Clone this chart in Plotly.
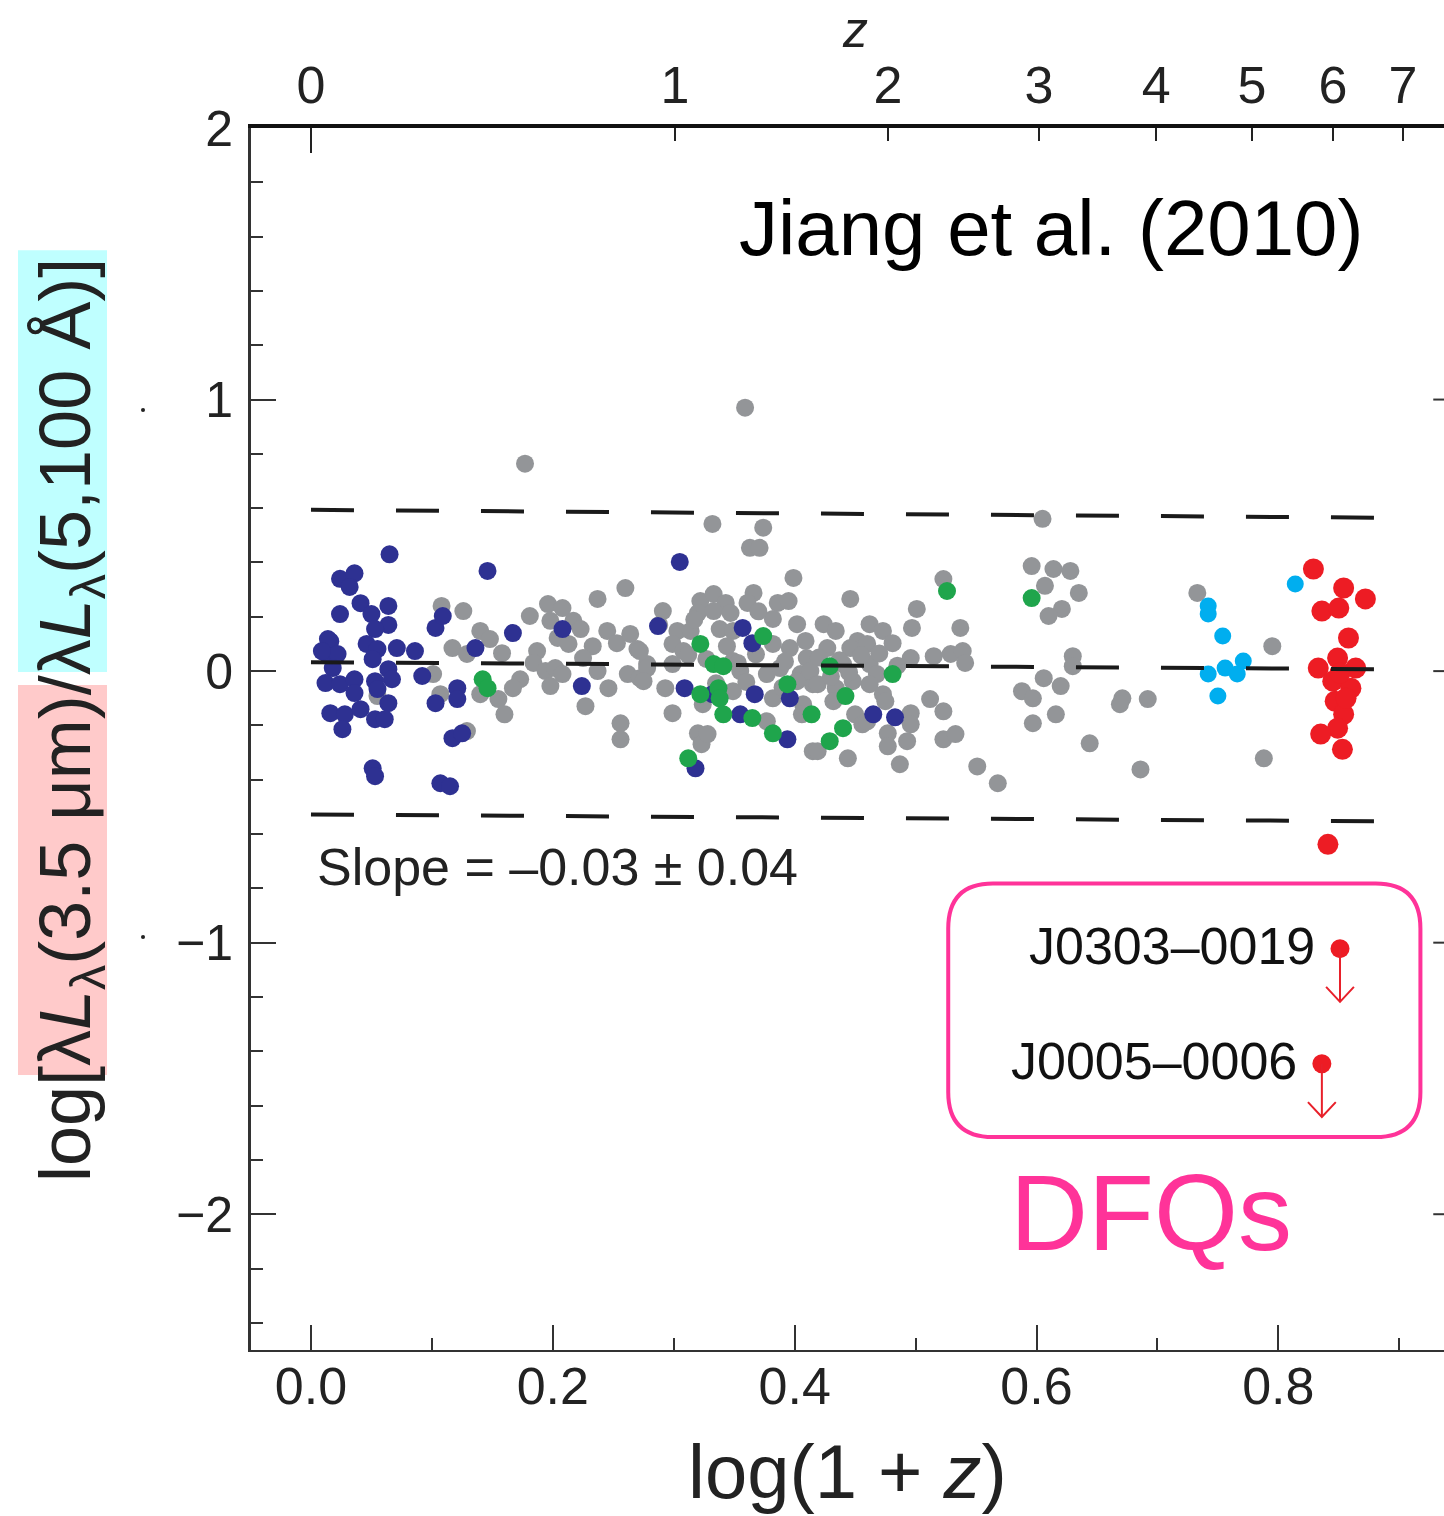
import numpy as np
import plotly.graph_objects as go

# ---------------- data ----------------
gray_x = [0.055,0.101,0.108,0.126,0.117,0.129,0.107,0.129,0.140,0.148,0.158,0.177,0.181,0.196,0.208,0.198,0.217,0.223,
          0.204,0.213,0.233,0.237,0.260,0.245,0.253,0.264,0.270,0.187,0.184,0.194,0.202,0.208,0.198,0.173,0.167,0.155,
          0.160,0.140,0.225,0.237,0.246,0.262,0.272,0.278,0.227,0.256,0.256,
          0.291,0.322,0.333,0.343,0.320,0.333,0.347,0.303,0.314,0.338,0.349,0.299,0.308,0.344,0.272,0.278,0.299,0.275,
          0.293,0.349,0.355,0.377,0.388,0.349,0.382,0.299,0.324,0.320,0.323,0.328,0.332,0.359,0.374,0.363,0.371,0.399,
          0.366,0.361,0.386,0.395,0.382,0.382,0.402,0.409,0.410,0.405,0.415,0.407,0.377,0.415,0.396,0.402,
          0.523,0.446,0.501,0.497,0.537,0.424,0.434,0.462,0.473,0.481,0.452,0.460,0.446,0.496,0.515,0.529,0.539,0.541,
          0.413,0.440,0.462,0.468,0.462,0.473,0.448,0.434,0.419,0.512,0.523,0.496,0.450,0.456,0.496,0.477,0.477,0.493,
          0.523,0.533,0.419,0.444,0.487,0.551,0.568,0.432,0.460,0.475,0.427,0.406,
          0.605,0.596,0.614,0.628,0.607,0.635,0.621,0.610,0.630,0.630,0.606,0.588,0.597,0.620,0.671,0.669,0.692,0.597,
          0.616,0.644,0.686,0.733,0.795,0.788,
          0.312,0.327,0.353,0.368,0.392,0.420,0.437,0.455,0.470,0.485,0.430,0.445,0.390,0.360,0.335,0.288,0.317,0.370]
gray_y = [-0.092,-0.011,0.240,0.221,0.085,0.063,-0.085,-0.221,0.148,0.118,0.066,0.764,0.203,0.247,0.232,0.185,0.185,0.155,
          0.122,0.100,0.092,0.266,0.306,0.148,0.103,0.137,0.081,0.074,0.030,0.000,0.011,-0.011,-0.055,-0.030,-0.063,-0.103,
          -0.159,-0.085,0.048,0.000,-0.063,-0.011,-0.026,0.026,-0.129,-0.192,-0.251,
          0.221,0.258,0.284,0.251,0.214,0.221,0.214,0.148,0.148,0.155,0.148,0.100,0.074,0.092,0.074,0.011,0.026,-0.037,
          -0.063,0.037,0.000,-0.011,0.011,-0.074,-0.100,-0.155,-0.122,-0.229,-0.269,-0.232,0.542,0.970,0.528,0.454,0.454,0.343,
          0.288,0.251,0.251,0.258,0.192,0.100,0.173,0.111,0.048,-0.011,-0.048,-0.122,-0.185,-0.295,0.085,-0.037,
          0.339,0.266,0.229,0.159,0.159,0.173,0.148,0.173,0.148,0.103,0.111,0.100,0.085,0.048,0.055,0.063,0.074,0.030,
          0.000,0.026,0.026,-0.011,-0.048,-0.085,-0.037,-0.063,-0.048,-0.103,-0.148,-0.155,-0.159,-0.196,-0.196,-0.229,-0.277,-0.258,
          -0.251,-0.232,-0.295,-0.321,-0.343,-0.351,-0.413,-0.111,-0.185,-0.111,0.085,-0.159,
          0.561,0.387,0.376,0.369,0.314,0.288,0.229,0.203,0.055,0.018,-0.026,-0.074,-0.100,-0.055,-0.100,-0.122,-0.103,-0.192,
          -0.159,-0.266,-0.362,0.288,0.092,-0.321,
          0.060,0.045,0.030,0.062,0.035,0.050,0.040,0.058,0.065,0.020,-0.020,-0.005,-0.060,-0.040,-0.045,0.170,0.190,0.220]

navy_x = [0.065,0.024,0.036,0.032,0.024,0.041,0.050,0.064,0.064,0.053,0.016,0.012,0.022,0.018,0.046,0.055,0.051,0.071,
          0.086,0.064,0.067,0.012,0.024,0.036,0.036,0.053,0.055,0.064,0.016,0.028,0.041,0.026,0.053,0.061,0.051,0.053,
          0.107,0.115,0.092,0.103,0.109,0.103,0.121,0.121,0.117,0.125,0.136,0.146,0.167,0.208,0.224,0.287,0.305,0.309,
          0.318,0.332,0.357,0.365,0.367,0.396,0.355,0.394,0.465,0.483,0.014,0.009]
navy_y = [0.43,0.34,0.36,0.31,0.21,0.25,0.21,0.24,0.17,0.155,0.11,0.066,0.063,0.011,0.10,0.081,0.044,0.085,
          0.074,0.007,-0.03,-0.044,-0.048,-0.03,-0.081,-0.037,-0.066,-0.118,-0.155,-0.159,-0.14,-0.214,-0.177,-0.177,-0.358,-0.387,
          -0.413,-0.424,-0.018,0.159,0.203,-0.118,-0.063,-0.103,-0.247,-0.229,0.085,0.369,0.14,0.155,-0.055,0.166,0.402,-0.063,
          -0.358,-0.085,0.159,0.103,-0.085,-0.10,-0.159,-0.251,-0.159,-0.17,0.118,0.074]

green_x = [0.142,0.146,0.322,0.333,0.341,0.337,0.322,0.338,0.341,0.365,0.382,0.374,0.394,0.414,0.312,0.429,0.442,
           0.440,0.429,0.481,0.526,0.596]
green_y = [-0.03,-0.063,0.10,0.026,0.018,-0.063,-0.085,-0.10,-0.159,-0.173,-0.229,0.129,-0.048,-0.159,-0.321,0.018,-0.092,
           -0.21,-0.258,-0.011,0.295,0.269]

cyan_x = [0.814,0.742,0.742,0.754,0.742,0.756,0.766,0.771,0.750]
cyan_y = [0.321,0.24,0.21,0.129,-0.011,0.011,-0.011,0.037,-0.092]

red_x = [0.829,0.854,0.872,0.836,0.850,0.858,0.833,0.849,0.864,0.845,0.860,0.847,0.854,0.849,0.835,0.853,0.841,0.851,0.856]
red_y = [0.376,0.306,0.266,0.221,0.232,0.122,0.011,0.048,0.011,-0.037,-0.063,-0.111,-0.159,-0.21,-0.232,-0.288,-0.638,-0.007,-0.10]

# dust-free quasars (upper limits)
dfq_names = ["J0303–0019", "J0005–0006"]
dfq_x = [0.851, 0.836]
dfq_y = [-1.022, -1.446]
dfq_limit_y = [-1.218, -1.642]

# fit line and scatter envelope
fit_x = [0.0, 0.883]
fit_mid = [0.033, 0.007]
fit_hi = [0.594, 0.565]
fit_lo = [-0.528, -0.553]

z_ticks = [0, 1, 2, 3, 4, 5, 6, 7]
x_range = [-0.0496, 0.937]
y_range = [-2.5, 2.0]

FONT = "Liberation Sans, Arial, Helvetica, sans-serif"
PINK = "#FF3399"
LIMIT_RED = "#E8202A"

fig = go.Figure()

def pts(x, y, color, size):
    return go.Scatter(x=x, y=y, mode="markers", showlegend=False, hoverinfo="skip",
                      marker=dict(color=color, size=size, line=dict(width=0)))

fig.add_trace(pts(gray_x, gray_y, "#939598", 18))
fig.add_trace(pts(navy_x, navy_y, "#2E3192", 18))
fig.add_trace(pts(green_x, green_y, "#1FA54C", 18))
fig.add_trace(pts(cyan_x, cyan_y, "#00AEEF", 17))
fig.add_trace(pts(red_x, red_y, "#ED1C24", 21))
fig.add_trace(pts(dfq_x, dfq_y, "#ED1C24", 19))

for yy in (fit_hi, fit_mid, fit_lo):
    fig.add_trace(go.Scatter(x=fit_x, y=yy, mode="lines", showlegend=False, hoverinfo="skip",
                             line=dict(color="#1a1a1a", width=4, dash="43px,42px")))

# invisible traces so that the top axes are drawn
fig.add_trace(go.Scatter(x=dfq_x, y=dfq_y, xaxis="x2", mode="markers", marker=dict(opacity=0),
                         showlegend=False, hoverinfo="skip"))
fig.add_trace(go.Scatter(x=dfq_x, y=dfq_y, xaxis="x3", mode="markers", marker=dict(opacity=0),
                         showlegend=False, hoverinfo="skip"))

annotations = []
# DFQ labels
for name, x0, y0 in zip(dfq_names, dfq_x, dfq_y):
    annotations.append(dict(x=x0 - 0.019, y=y0 + 0.01, xref="x", yref="y", text=name, showarrow=False,
                            xanchor="right", yanchor="middle", font=dict(family=FONT, size=52, color="#111")))

annotations += [
    dict(x=0.612, y=1.631, xref="x", yref="y", text="Jiang et al. (2010)", showarrow=False,
         xanchor="center", yanchor="middle", font=dict(family=FONT, size=78, color="#000")),
    dict(x=0.003, y=-0.72, xref="x", yref="y", text="Slope = –0.03 ± 0.04", showarrow=False,
         xanchor="left", yanchor="middle", font=dict(family=FONT, size=52, color="#222")),
    dict(x=0.695, y=-1.993, xref="x", yref="y", text="DFQs", showarrow=False,
         xanchor="center", yanchor="middle", font=dict(family=FONT, size=108, color=PINK)),
    dict(x=0.5004, y=-0.0998, xref="paper", yref="paper", text="log(1 + <i>z</i>)", showarrow=False,
         xanchor="center", yanchor="middle", font=dict(family=FONT, size=76, color="#222")),
    dict(x=0.5063, y=1.080, xref="paper", yref="paper", text="<i>z</i>", showarrow=False,
         xanchor="center", yanchor="middle", font=dict(family=FONT, size=50, color="#222")),
    dict(x=-0.1517, y=0.5155, xref="paper", yref="paper", textangle=-90,
         text="log[λ<i>L</i><sub>λ</sub>(3.5 μm)/λ<i>L</i><sub>λ</sub>(5,100 Å)]", showarrow=False,
         xanchor="center", yanchor="middle", font=dict(family=FONT, size=72, color="#222")),
]

# shapes: highlight boxes behind y title, rounded DFQ box, right-side ticks, upper-limit arrows
shapes = [
    dict(type="rect", xref="paper", yref="paper", x0=-0.1953, x1=-0.1207, y0=0.5548, y1=0.900,
         fillcolor="#BFFFFF", line=dict(width=0), layer="below"),
    dict(type="rect", xref="paper", yref="paper", x0=-0.1953, x1=-0.1207, y0=0.2250, y1=0.5442,
         fillcolor="#FFCACA", line=dict(width=0), layer="below"),
]
bx0, bx1, by0, by1, rx, ry = 0.527, 0.9175, -0.782, -1.716, 0.037, 0.166
path = (f"M {bx0+rx},{by0} L {bx1-rx},{by0} Q {bx1},{by0} {bx1},{by0-ry} "
        f"L {bx1},{by1+ry} Q {bx1},{by1} {bx1-rx},{by1} L {bx0+rx},{by1} "
        f"Q {bx0},{by1} {bx0},{by1+ry} L {bx0},{by0-ry} Q {bx0},{by0} {bx0+rx},{by0} Z")
shapes.append(dict(type="path", xref="x", yref="y", path=path, line=dict(color=PINK, width=4)))
for x0, y0, y1 in zip(dfq_x, dfq_y, dfq_limit_y):
    shapes.append(dict(type="line", xref="x", yref="y", x0=x0, x1=x0, y0=y0, y1=y1,
                       line=dict(color=LIMIT_RED, width=2)))
    hx, hy = 0.0115, 0.055
    shapes.append(dict(type="path", xref="x", yref="y",
                       path=f"M {x0-hx},{y1+hy} L {x0},{y1} L {x0+hx},{y1+hy}",
                       line=dict(color=LIMIT_RED, width=2)))
for yv in [-2, -1, 0, 1]:
    shapes.append(dict(type="line", xref="paper", yref="y", x0=0.991, x1=1.0, y0=yv, y1=yv,
                       line=dict(color="#333", width=2)))
for yp in (0.7692, 0.338):
    shapes.append(dict(type="circle", xref="paper", yref="paper", x0=-0.0922, x1=-0.0888,
                       y0=yp - 0.0016, y1=yp + 0.0016, fillcolor="#222", line=dict(width=0)))

tickfont = dict(family=FONT, size=52, color="#222")

fig.update_layout(
    width=1444, height=1516,
    margin=dict(l=251, r=0, t=128, b=166),
    paper_bgcolor="white", plot_bgcolor="white",
    showlegend=False,
    xaxis=dict(range=x_range, tick0=0, dtick=0.2, tickformat=".1f", ticks="inside", ticklen=25,
               tickwidth=2, tickcolor="#333", showline=True, linewidth=2, linecolor="#333",
               showgrid=False, zeroline=False, tickfont=tickfont, automargin=False, ticklabelstandoff=-10,
               minor=dict(tick0=0, dtick=0.1, ticks="inside", ticklen=12, tickwidth=2, tickcolor="#333",
                          showgrid=False)),
    xaxis2=dict(overlaying="x", side="top", anchor="y", range=x_range, tickmode="array",
                tickvals=list(np.log10(1 + np.array(z_ticks, dtype=float))),
                ticktext=[str(z) for z in z_ticks], ticks="inside", ticklen=13, tickwidth=2,
                tickcolor="#222", showline=True, linewidth=4, linecolor="#111", showgrid=False,
                zeroline=False, tickfont=tickfont, automargin=False),
    xaxis3=dict(overlaying="x", side="top", anchor="y", range=x_range, tickmode="array",
                tickvals=[0.0], ticks="inside", ticklen=25, tickwidth=2, tickcolor="#222",
                showticklabels=False, showline=False, showgrid=False, zeroline=False, automargin=False),
    yaxis=dict(range=y_range, tick0=0, dtick=1, ticks="inside", ticklen=25, tickwidth=2, tickcolor="#333",
               showline=True, linewidth=3, linecolor="#333", showgrid=False, zeroline=False,
               tickfont=dict(family=FONT, size=50, color="#222"), automargin=False, ticklabelstandoff=5,
               minor=dict(tick0=0, dtick=0.2, ticks="inside", ticklen=12, tickwidth=2, tickcolor="#333",
                          showgrid=False)),
    annotations=annotations,
    shapes=shapes,
)

fig.write_html("out.html")
